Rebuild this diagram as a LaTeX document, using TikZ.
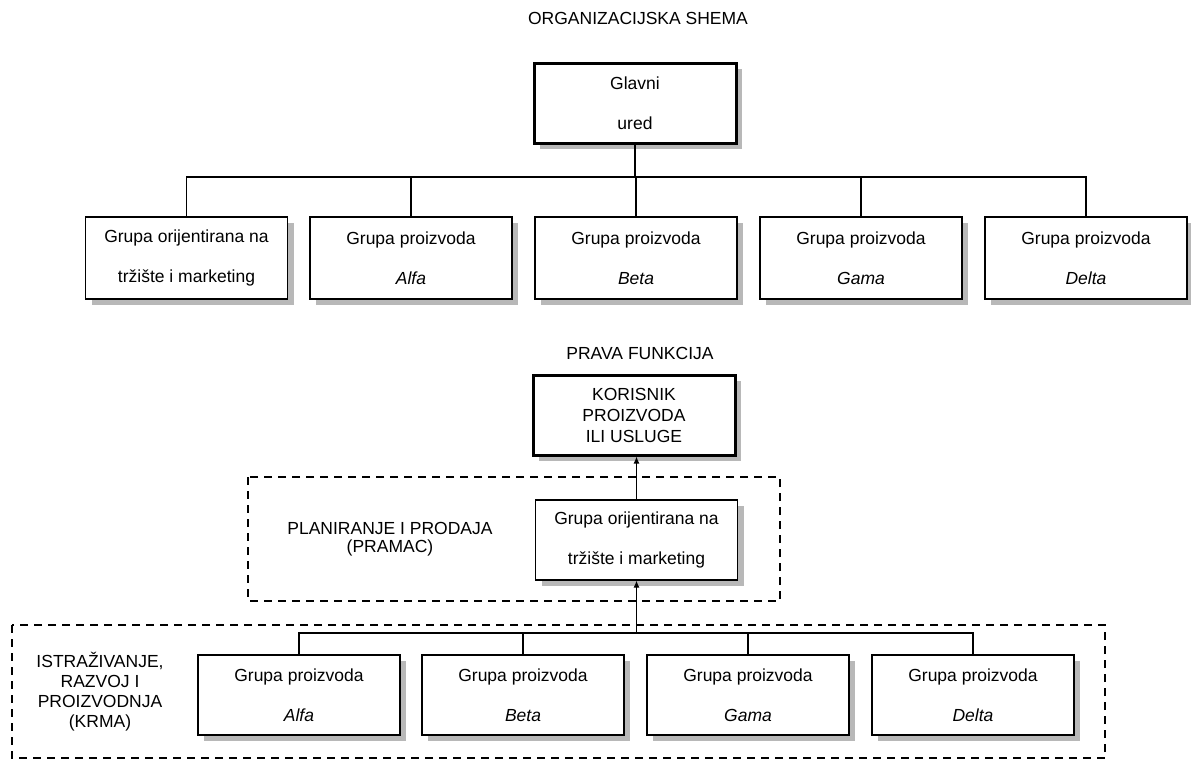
\documentclass[tikz,border=0pt]{standalone}
\usepackage{fontspec}
\setmainfont{Liberation Sans}
\usetikzlibrary{arrows.meta,shadows}
\begin{document}
\begin{tikzpicture}[x=1pt,y=-1pt,
  shad/.style={drop shadow={shadow xshift=6pt,shadow yshift=-6pt,fill=black!28,opacity=1}},
  box/.style={draw, line width=1.2pt, fill=white, minimum width=202pt, minimum height=82pt, inner sep=0pt, shad, font=\fontsize{17.5}{40}\selectfont, align=center},
  thickbox/.style={box, line width=3pt},
  lbl/.style={font=\fontsize{17.5}{19}\selectfont, align=center, inner sep=0pt},
  ln/.style={line width=1.2pt},
  arr/.style={ln, -{Latex[length=7pt,width=6pt]}},
  grp/.style={draw, line width=1.2pt, dash pattern=on 8pt off 6pt}
]
\useasboundingbox (0,0) rectangle (1191,761);
% top chart
\node[lbl] (t1) at (638,18) {ORGANIZACIJSKA SHEMA};
\coordinate (bus) at (0,177);
\node[thickbox, minimum height=80pt] (gl) at (635,103) {Glavni\\ured};
\draw[ln] (gl.south) -- (gl.south |- bus);
\node[box] (a1) at (186.5,258) {Grupa orijentirana na\\tr\v{z}i\v{s}te i marketing};
\node[box] (a2) at (411,258) {Grupa proizvoda\\\textit{Alfa}};
\node[box] (a3) at (636,258) {Grupa proizvoda\\\textit{Beta}};
\node[box] (a4) at (861,258) {Grupa proizvoda\\\textit{Gama}};
\node[box] (a5) at (1086,258) {Grupa proizvoda\\\textit{Delta}};
\draw[ln] (a1.north) -- (a1.north |- bus) -- (a5.north |- bus) -- (a5.north);
\foreach \n in {a2,a3,a4} \draw[ln] (\n.north) -- (\n.north |- bus);
% bottom chart
\node[lbl] (t2) at (640,353) {PRAVA FUNKCIJA};
\draw[grp] (248,477) rectangle (780,601);
\draw[grp] (12,625) rectangle (1105,758);
\node[thickbox, minimum height=80pt, font=\fontsize{17.5}{21}\selectfont] (ko) at (634,415) {KORISNIK\\PROIZVODA\\ILI USLUGE};
\node[box, minimum height=80pt] (pl) at (636.5,540) {Grupa orijentirana na\\tr\v{z}i\v{s}te i marketing};
\node[lbl, font=\fontsize{17.5}{18}\selectfont] (pramac) at (390,539) {PLANIRANJE I PRODAJA\\(PRAMAC)};
\node[lbl, font=\fontsize{17.5}{20}\selectfont] (krma) at (100,692) {ISTRA\v{Z}IVANJE,\\RAZVOJ I\\PROIZVODNJA\\(KRMA)};
\coordinate (bus2) at (0,633);
\node[box, minimum height=80pt] (b1) at (299,695) {Grupa proizvoda\\\textit{Alfa}};
\node[box, minimum height=80pt] (b2) at (523,695) {Grupa proizvoda\\\textit{Beta}};
\node[box, minimum height=80pt] (b3) at (748,695) {Grupa proizvoda\\\textit{Gama}};
\node[box, minimum height=80pt] (b4) at (973,695) {Grupa proizvoda\\\textit{Delta}};
\draw[ln] (b1.north) -- (b1.north |- bus2) -- (b4.north |- bus2) -- (b4.north);
\foreach \n in {b2,b3} \draw[ln] (\n.north) -- (\n.north |- bus2);
\coordinate (j2) at (pl.south |- bus2);
\draw[arr] (j2) -- (pl.south);
\draw[arr] (pl.north) -- (pl.north |- ko.south);
\end{tikzpicture}
\end{document}
